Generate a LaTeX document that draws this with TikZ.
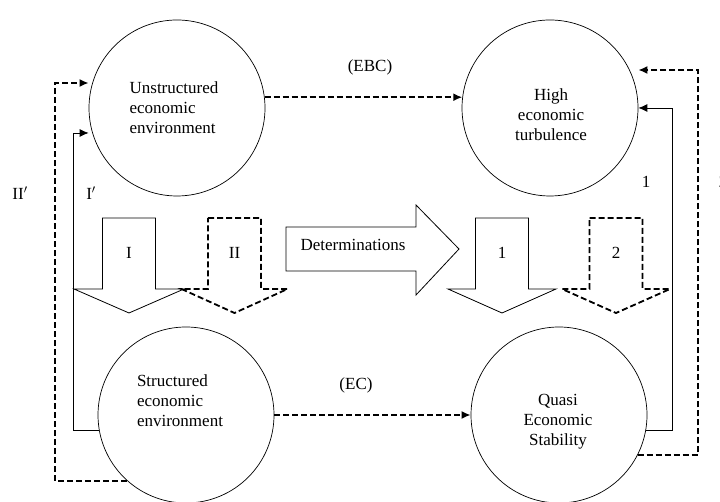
\documentclass[tikz,border=0pt]{standalone}
\usepackage{fontspec}
\setmainfont{Liberation Serif}
\usetikzlibrary{arrows.meta}

\tikzset{
  cercle/.style={draw,circle,minimum size=176pt,inner sep=0pt,line width=0.7pt},
  texte/.style={font=\fontsize{17}{20}\selectfont,inner sep=0pt},
  plein/.style={line width=0.8pt,line join=miter},
  tirets/.style={line width=1.8pt,dash pattern=on 6pt off 3pt,line join=miter},
  fleche/.style={-{Latex[length=9pt,width=8pt]}}
}

\begin{document}
\begin{tikzpicture}[x=1pt,y=1pt]
    \useasboundingbox (0,0) rectangle (720,502);
    % les cercles
    \node[cercle] (U) at (177,394) {};
    \node[cercle] (H) at (550,394) {};
    \node[cercle] (S) at (186,87) {};
    \node[cercle] (Q) at (559,87) {};
    \node[texte,align=left] (u) at (174,394) {Unstructured\\economic\\environment};
    \node[texte,align=center] (h) at (551,387) {High\\economic\\turbulence};
    \node[texte,align=left] (s) at (180,101) {Structured\\economic\\environment};
    \node[texte,align=center] (q) at (558,80) {Quasi\\Economic\\Stability};
    % définition des coins
    \coordinate (A) at (73,369);
    \coordinate (B) at (55,419);
    \coordinate (C) at (672,394);
    \coordinate (D) at (698,432);
    % liaisons
    \draw[tirets,fleche] (U.7) -- (H.173);
    \draw[tirets,fleche] (S.east) -- (Q.west);
    \draw[plein,fleche] (S.190) -| (A) -- (U.west |- A);
    \draw[tirets,fleche] (S.228) -| (B) -- (U.west |- B);
    \draw[plein,fleche] (Q.350) -| (C) -- (H.east |- C);
    \draw[tirets,fleche] (Q.333) -| (D) -- (H.east |- D);
    % les flèches épaisses
    \draw[plein] (102.5,284) -- (155.5,284) -- (155.5,213) -- (184,213) -- (129,189) -- (74,213) -- (102.5,213) -- cycle;
    \draw[tirets] (208,284) -- (261,284) -- (261,213) -- (287.5,213) -- (234.5,189) -- (181.5,213) -- (208,213) -- cycle;
    \draw[plein] (475.5,284) -- (528.5,284) -- (528.5,213) -- (556,213) -- (502,189) -- (448,213) -- (475.5,213) -- cycle;
    \draw[tirets] (589.5,284) -- (642.5,284) -- (642.5,213) -- (670,213) -- (616,189) -- (562,213) -- (589.5,213) -- cycle;
    \draw[plein] (286,275) -- (416,275) -- (416,297) -- (459,253) -- (416,207) -- (416,231) -- (286,231) -- cycle;
    % étiquettes
    \node[texte] (ebc) at (370,435) {(EBC)};
    \node[texte] (ec) at (356,117) {(EC)};
    \node[texte] (det) at (353,257) {Determinations};
    \node[texte] (l1) at (129,249) {I};
    \node[texte] (l2) at (234.5,249) {II};
    \node[texte] (l3) at (502,249) {1};
    \node[texte] (l4) at (616,249) {2};
    \node[texte] (p1) at (20,309) {II$'$};
    \node[texte] (p2) at (91,309) {I$'$};
    \node[texte] (p3) at (646,320) {1};
    \node[texte] (p4) at (723,320) {2};
\end{tikzpicture}
\end{document}
